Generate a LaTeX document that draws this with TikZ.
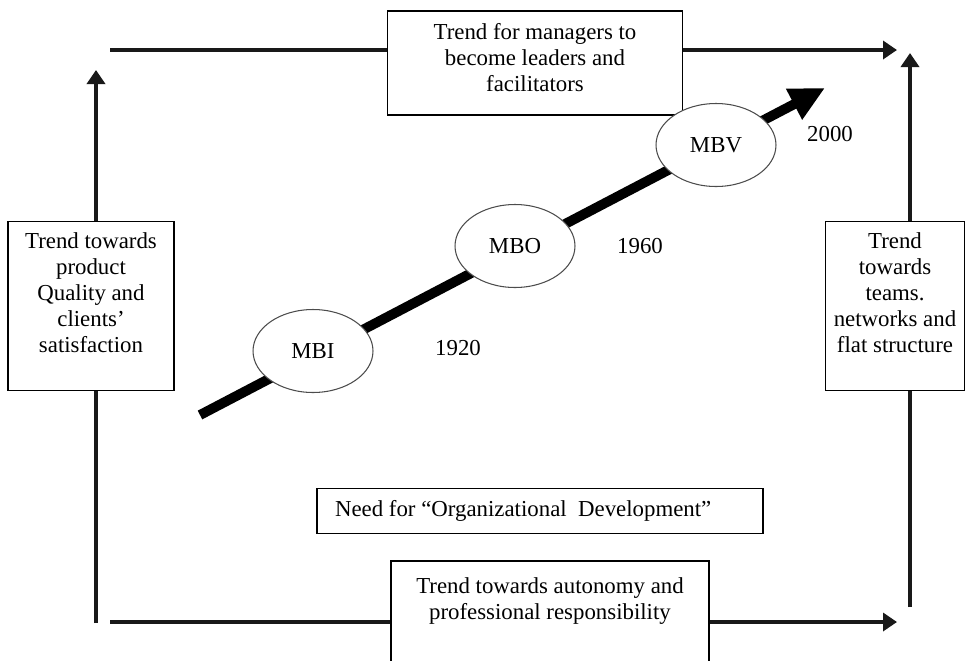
\documentclass[tikz,border=0pt]{standalone}
\usepackage{fontspec}
\setmainfont{Liberation Serif}
\usetikzlibrary{positioning,arrows.meta,shapes.geometric}

\begin{document}
\begin{tikzpicture}[
  x = 0.02cm, y = -0.02cm,
  font          = \fontsize{13}{14.8}\selectfont,
  every node/.style = {align=center},
  trendbox/.style = {draw, fill=white, line width=0.8pt, inner sep=2pt},
  era/.style    = {ellipse, draw=black!70, fill=white, line width=0.6pt,
                   minimum width=2.4cm, minimum height=1.66cm},
  frame/.style  = {-{Triangle[length=2.8mm,width=3.6mm]}, line width=2.3pt,
                   draw=black!90},
  rise/.style   = {-{Triangle[length=7mm,width=6.5mm]}, line width=5.6pt},
]
\path[use as bounding box, clip] (0,0) rectangle (971,660);

% Frame arrows round the picture
\coordinate (topS) at (110,50);
\coordinate (topE) at (897,50);
\coordinate (botS) at (110,622);
\coordinate (botE) at (897,622);
\coordinate (lftS) at (96,623);
\coordinate (lftE) at (96,70);
\coordinate (rgtS) at (910,607);
\coordinate (rgtE) at (910,53);

\draw[frame] (topS) -- (topE);
\draw[frame] (botS) -- (botE);
\draw[frame] (lftS) -- (lftE);
\draw[frame] (rgtS) -- (rgtE);

% Rising arrow of the eras
\coordinate (riseS) at (200,415);
\coordinate (riseE) at (825,88);
\draw[rise] (riseS) -- (riseE);

% Trend boxes
\node[trendbox, minimum width=5.9cm, minimum height=2.08cm] (mgr) at (535,63)
  {Trend for managers to\\become leaders and\\facilitators\\[-0.3cm]};
\node[trendbox, minimum width=3.32cm, minimum height=3.38cm] (qual) at (91,306)
  {Trend towards\\product\\Quality and\\clients'\\satisfaction\\};
\node[trendbox, minimum width=2.78cm, minimum height=3.38cm] (team) at (895,306)
  {Trend\\towards\\teams.\\networks and\\flat structure\\};
\node[trendbox, minimum width=6.36cm, minimum height=2.04cm] (auto) at (550,612)
  {Trend towards autonomy and\\professional responsibility\\};
\node[trendbox, minimum height=0.9cm, inner xsep=0.36cm, text width=8.2cm,
      align=flush left] (need) at (540,511)
  {Need for \textquotedblleft Organizational\ \ Development\textquotedblright};

% Eras on the arrow
\node[era] (mbi) at (313,351) {MBI};
\node[era] (mbo) at (515,246) {MBO};
\node[era] (mbv) at (716,145) {MBV};

\node (y1920) at (458,348) {1920};
\node (y1960) at (640,246) {1960};
\node (y2000) at (830,134) {2000};

\end{tikzpicture}
\end{document}
